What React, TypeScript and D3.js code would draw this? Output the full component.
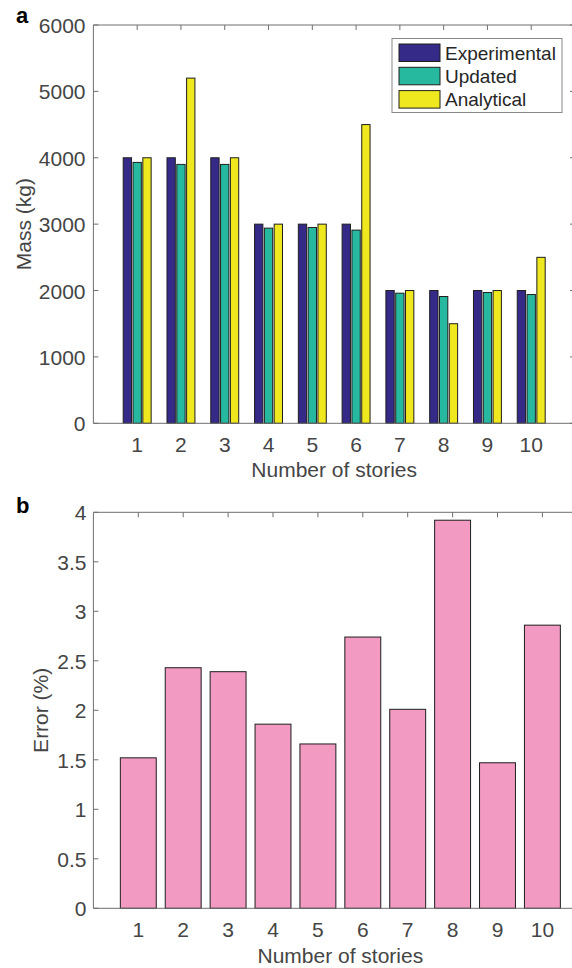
import React from 'react';
import * as d3 from 'd3';

const stories = [1, 2, 3, 4, 5, 6, 7, 8, 9, 10];
const experimental = [4000, 4000, 4000, 3000, 3000, 3000, 2000, 2000, 2000, 2000];
const updated = [3930, 3900, 3900, 2940, 2950, 2910, 1960, 1910, 1970, 1940];
const analytical = [4000, 5200, 4000, 3000, 3000, 4500, 2000, 1500, 2000, 2500];
const seriesNames = ['Experimental', 'Updated', 'Analytical'];
const seriesColors = ['#352a87', '#26b99f', '#f0e81e'];
const massTicks = [0, 1000, 2000, 3000, 4000, 5000, 6000];

const errorPct = [1.52, 2.43, 2.39, 1.86, 1.66, 2.74, 2.01, 3.92, 1.47, 2.86];
const errorTicks = [0, 0.5, 1, 1.5, 2, 2.5, 3, 3.5, 4];

const FONT = '"Liberation Sans", Arial, Helvetica, sans-serif';
const TXT = '#454545';
const AX = '#6e6e6e';
const FS = 21;

const App: React.FC = () => {
  // top panel scales
  const xA = d3.scaleLinear().domain([0, 11]).range([93.4, 575]);
  const yA = d3.scaleLinear().domain([0, 6000]).range([423.3, 25]);
  // bottom panel scales
  const xB = d3.scaleLinear().domain([0, 11]).range([93.4, 587.3]);
  const yB = d3.scaleLinear().domain([0, 4]).range([908.3, 512.3]);

  const series = [experimental, updated, analytical];
  const offset = 0.224;
  const barW = 0.19;
  const tick = 5;

  return (
    <svg width={572} height={968} style={{ position: 'absolute', left: 0, top: 0 }} fontFamily={FONT}>
      <rect width={572} height={968} fill="#fff" />

      {/* ---- panel a ---- */}
      <text x={16} y={23} fontSize={22} fontWeight="bold" fill="#000">a</text>

      {series.map((vals, k) =>
        vals.map((v, i) => {
          const cx = stories[i] + (k - 1) * offset;
          return (
            <rect
              key={`a${k}-${i}`}
              x={xA(cx - barW / 2)}
              y={yA(v)}
              width={xA(barW) - xA(0)}
              height={yA(0) - yA(v)}
              fill={seriesColors[k]}
              stroke="#1e1e1e"
              strokeWidth={1}
            />
          );
        })
      )}

      {/* axes box */}
      <line x1={xA(0)} x2={xA(11)} y1={yA(0)} y2={yA(0)} stroke={AX} />
      <line x1={xA(0)} x2={xA(11)} y1={yA(6000)} y2={yA(6000)} stroke={AX} />
      <line x1={xA(0)} x2={xA(0)} y1={yA(0)} y2={yA(6000)} stroke={AX} />
      <line x1={xA(11)} x2={xA(11)} y1={yA(0)} y2={yA(6000)} stroke={AX} />
      {stories.map((s) => (
        <g key={`ta${s}`}>
          <line x1={xA(s)} x2={xA(s)} y1={yA(6000)} y2={yA(6000) + tick} stroke={AX} />
          <text x={xA(s)} y={yA(0) + 29} fontSize={FS} fill={TXT} textAnchor="middle">{s}</text>
        </g>
      ))}
      {massTicks.map((t) => (
        <g key={`ma${t}`}>
          <line x1={xA(0)} x2={xA(0) + tick} y1={yA(t)} y2={yA(t)} stroke={AX} />
          <line x1={xA(11)} x2={xA(11) - tick} y1={yA(t)} y2={yA(t)} stroke={AX} />
          <text x={85.5} y={yA(t) + 8} fontSize={FS} fill={TXT} textAnchor="end">{t}</text>
        </g>
      ))}
      <text x={(xA(0) + xA(11)) / 2} y={477} fontSize={FS} fill={TXT} textAnchor="middle">Number of stories</text>
      <text transform={`translate(31,${(yA(0) + yA(6000)) / 2}) rotate(-90)`} fontSize={FS} fill={TXT} textAnchor="middle">Mass (kg)</text>

      {/* legend */}
      <rect x={392} y={38.5} width={170} height={74} fill="#fff" stroke="#888" />
      {seriesNames.map((n, k) => (
        <g key={n}>
          <rect x={399} y={44 + k * 23.3} width={41} height={17.5} fill={seriesColors[k]} stroke="#1e1e1e" />
          <text x={445} y={59.5 + k * 23.3} fontSize={19} fill="#262626">{n}</text>
        </g>
      ))}

      {/* ---- panel b ---- */}
      <text x={16} y={513} fontSize={22} fontWeight="bold" fill="#000">b</text>

      {errorPct.map((v, i) => (
        <rect
          key={`b${i}`}
          x={xB(stories[i] - 0.4)}
          y={yB(v)}
          width={xB(0.8) - xB(0)}
          height={yB(0) - yB(v)}
          fill="#f29ac2"
          stroke="#1e1e1e"
          strokeWidth={1}
        />
      ))}

      <line x1={xB(0)} x2={xB(11)} y1={yB(0)} y2={yB(0)} stroke={AX} />
      <line x1={xB(0)} x2={xB(11)} y1={yB(4)} y2={yB(4)} stroke={AX} />
      <line x1={xB(0)} x2={xB(0)} y1={yB(0)} y2={yB(4)} stroke={AX} />
      {stories.map((s) => (
        <g key={`tb${s}`}>
          <line x1={xB(s)} x2={xB(s)} y1={yB(4)} y2={yB(4) + tick} stroke={AX} />
          <text x={xB(s)} y={yB(0) + 29} fontSize={FS} fill={TXT} textAnchor="middle">{s}</text>
        </g>
      ))}
      {errorTicks.map((t) => (
        <g key={`eb${t}`}>
          <line x1={xB(0)} x2={xB(0) + tick} y1={yB(t)} y2={yB(t)} stroke={AX} />
          <text x={86.5} y={yB(t) + 8} fontSize={FS} fill={TXT} textAnchor="end">{String(t)}</text>
        </g>
      ))}
      <text x={(xB(0) + xB(11)) / 2} y={963} fontSize={FS} fill={TXT} textAnchor="middle">Number of stories</text>
      <text transform={`translate(48,${(yB(0) + yB(4)) / 2}) rotate(-90)`} fontSize={FS} fill={TXT} textAnchor="middle">Error (%)</text>
    </svg>
  );
};

export default App;
